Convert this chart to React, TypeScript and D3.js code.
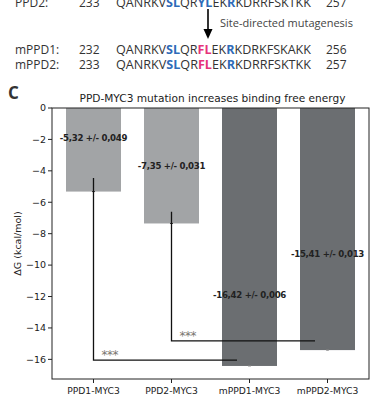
import React from 'react';
import * as d3 from 'd3';

const categories = ['PPD1-MYC3', 'PPD2-MYC3', 'mPPD1-MYC3', 'mPPD2-MYC3'];
const values = [-5.32, -7.35, -16.42, -15.41];
const errors = [0.049, 0.031, 0.006, 0.013];
const valueLabels = ['-5,32 +/- 0,049', '-7,35 +/- 0,031', '-16,42 +/- 0,006', '-15,41 +/- 0,013'];
const labelAt = [-1.9, -3.7, -11.9, -9.3];
const yTicks = [0, -2, -4, -6, -8, -10, -12, -14, -16];
// significance brackets: from bar, to bar, top of vertical, horizontal level
const bracketFrom = [0, 1];
const bracketTo = [2, 3];
const bracketTop = [-4.45, -6.6];
const bracketLevel = [-16.05, -14.82];

const lightGray = '#a2a4a6';
const darkGray = '#6b6e71';
const blue = '#2e6bb8';
const pink = '#e6337a';
const seqFont = "'Open Sans', 'Noto Sans', sans-serif";
const plotFont = "'DejaVu Sans', sans-serif";

type Seg = { t: string; c?: string };
const ppd2Seq: Seg[] = [{ t: 'QANRKV' }, { t: 'SL', c: blue }, { t: 'QR' }, { t: 'YL', c: blue }, { t: 'EK' }, { t: 'R', c: blue }, { t: 'KDRRFSKTKK' }];
const mppd1Seq: Seg[] = [{ t: 'QANRKV' }, { t: 'SL', c: blue }, { t: 'QR' }, { t: 'FL', c: pink }, { t: 'EK' }, { t: 'R', c: blue }, { t: 'KDRKFSKAKK' }];
const mppd2Seq: Seg[] = [{ t: 'QANRKV' }, { t: 'SL', c: blue }, { t: 'QR' }, { t: 'FL', c: pink }, { t: 'EK' }, { t: 'R', c: blue }, { t: 'KDRRFSKTKK' }];

function SeqLine({ name, start, end, seq, y }: { name: string; start: string; end: string; seq: Seg[]; y: number }) {
  return (
    <g fontFamily={seqFont} fontSize={12} fill="#333">
      <text x={15} y={y}>{name}</text>
      <text x={79} y={y}>{start}</text>
      <text x={116} y={y} textLength={195} lengthAdjust="spacingAndGlyphs">
        {seq.map((s, i) => (
          <tspan key={i} fill={s.c || '#333'} fontWeight={s.c ? 'bold' : 'normal'}>{s.t}</tspan>
        ))}
      </text>
      <text x={326} y={y}>{end}</text>
    </g>
  );
}

export default function App() {
  const W = 370;
  const H = 410;
  const left = 52, right = 369, top = 108, bottom = 379;
  const x = d3.scalePoint<string>().domain(categories).range([left, right]).padding(0.532);
  const step = x.step();
  const bw = step * 0.705;
  const y = d3.scaleLinear().domain([-17.25, 0]).range([bottom, top]);

  return (
    <svg width={W} height={H} style={{ position: 'absolute', left: 0, top: 0, background: '#fff' }}>
      <SeqLine name="PPD2:" start="233" end="257" seq={ppd2Seq} y={7} />
      <line x1={208} x2={208} y1={9} y2={30} stroke="#000" strokeWidth={1.6} />
      <path d="M203.5,29 L208,39 L212.5,29 Z" fill="#000" />
      <text x={220} y={27} fontFamily={seqFont} fontSize={11} fill="#444">Site-directed mutagenesis</text>
      <SeqLine name="mPPD1:" start="232" end="256" seq={mppd1Seq} y={54} />
      <SeqLine name="mPPD2:" start="233" end="257" seq={mppd2Seq} y={69} />
      <text x={8} y={99} fontFamily={seqFont} fontSize={17} fontWeight="bold" fill="#333">C</text>

      <text x={(left + right) / 2 + 2} y={102} textAnchor="middle" fontFamily={plotFont} fontSize={10.6} fill="#222"
        textLength={266} lengthAdjust="spacingAndGlyphs">PPD-MYC3 mutation increases binding free energy</text>

      {categories.map((c, i) => (
        <rect key={c} x={x(c)! - bw / 2} y={y(0)} width={bw} height={y(values[i]) - y(0)}
          fill={i < 2 ? lightGray : darkGray} />
      ))}

      {categories.map((c, i) => (
        <g key={c + 'e'} stroke={i < 2 ? '#333' : '#888'} strokeWidth={1}>
          <line x1={x(c)} x2={x(c)} y1={y(values[i] - errors[i])} y2={y(values[i] + errors[i])} />
          <line x1={x(c)! - 1.5} x2={x(c)! + 1.5} y1={y(values[i])} y2={y(values[i])} />
        </g>
      ))}

      {bracketFrom.map((f, i) => {
        const x0 = x(categories[f])!;
        const x1 = x(categories[bracketTo[i]])! - step * 0.16;
        const yl = y(bracketLevel[i]);
        return (
          <g key={'b' + i}>
            <path d={`M${x0},${y(bracketTop[i])} V${yl} H${x1}`} fill="none" stroke="#111" strokeWidth={1.3} />
            <text x={x0 + 8} y={yl - 1} fontFamily={plotFont} fontSize={12} fill="#7a7670" letterSpacing={-0.5}>***</text>
          </g>
        );
      })}

      {categories.map((c, i) => (
        <text key={c + 'l'} x={x(c)} y={y(labelAt[i])} dy="0.35em" textAnchor="middle" fontFamily={plotFont}
          fontSize={8.6} fontWeight="bold" fill="#222" letterSpacing={-0.3}>{valueLabels[i]}</text>
      ))}

      <rect x={left} y={top} width={right - left} height={bottom - top} fill="none" stroke="#222" strokeWidth={1} />

      {yTicks.map((t) => (
        <g key={t} transform={`translate(${left},${y(t)})`}>
          <line x1={-4} x2={0} stroke="#222" />
          <text x={-6} dy="0.35em" textAnchor="end" fontFamily={plotFont} fontSize={9.5} fill="#222">
            {t === 0 ? '0' : '\u2212' + Math.abs(t)}
          </text>
        </g>
      ))}
      {categories.map((c) => (
        <g key={c + 't'} transform={`translate(${x(c)},${bottom})`}>
          <line y2={4} stroke="#222" />
          <text y={15} textAnchor="middle" fontFamily={plotFont} fontSize={9.2} fill="#222">{c}</text>
        </g>
      ))}
      <text transform={`translate(21,${(top + bottom) / 2}) rotate(-90)`} textAnchor="middle" fontFamily={plotFont}
        fontSize={9.5} fill="#222">ΔG (kcal/mol)</text>
    </svg>
  );
}
